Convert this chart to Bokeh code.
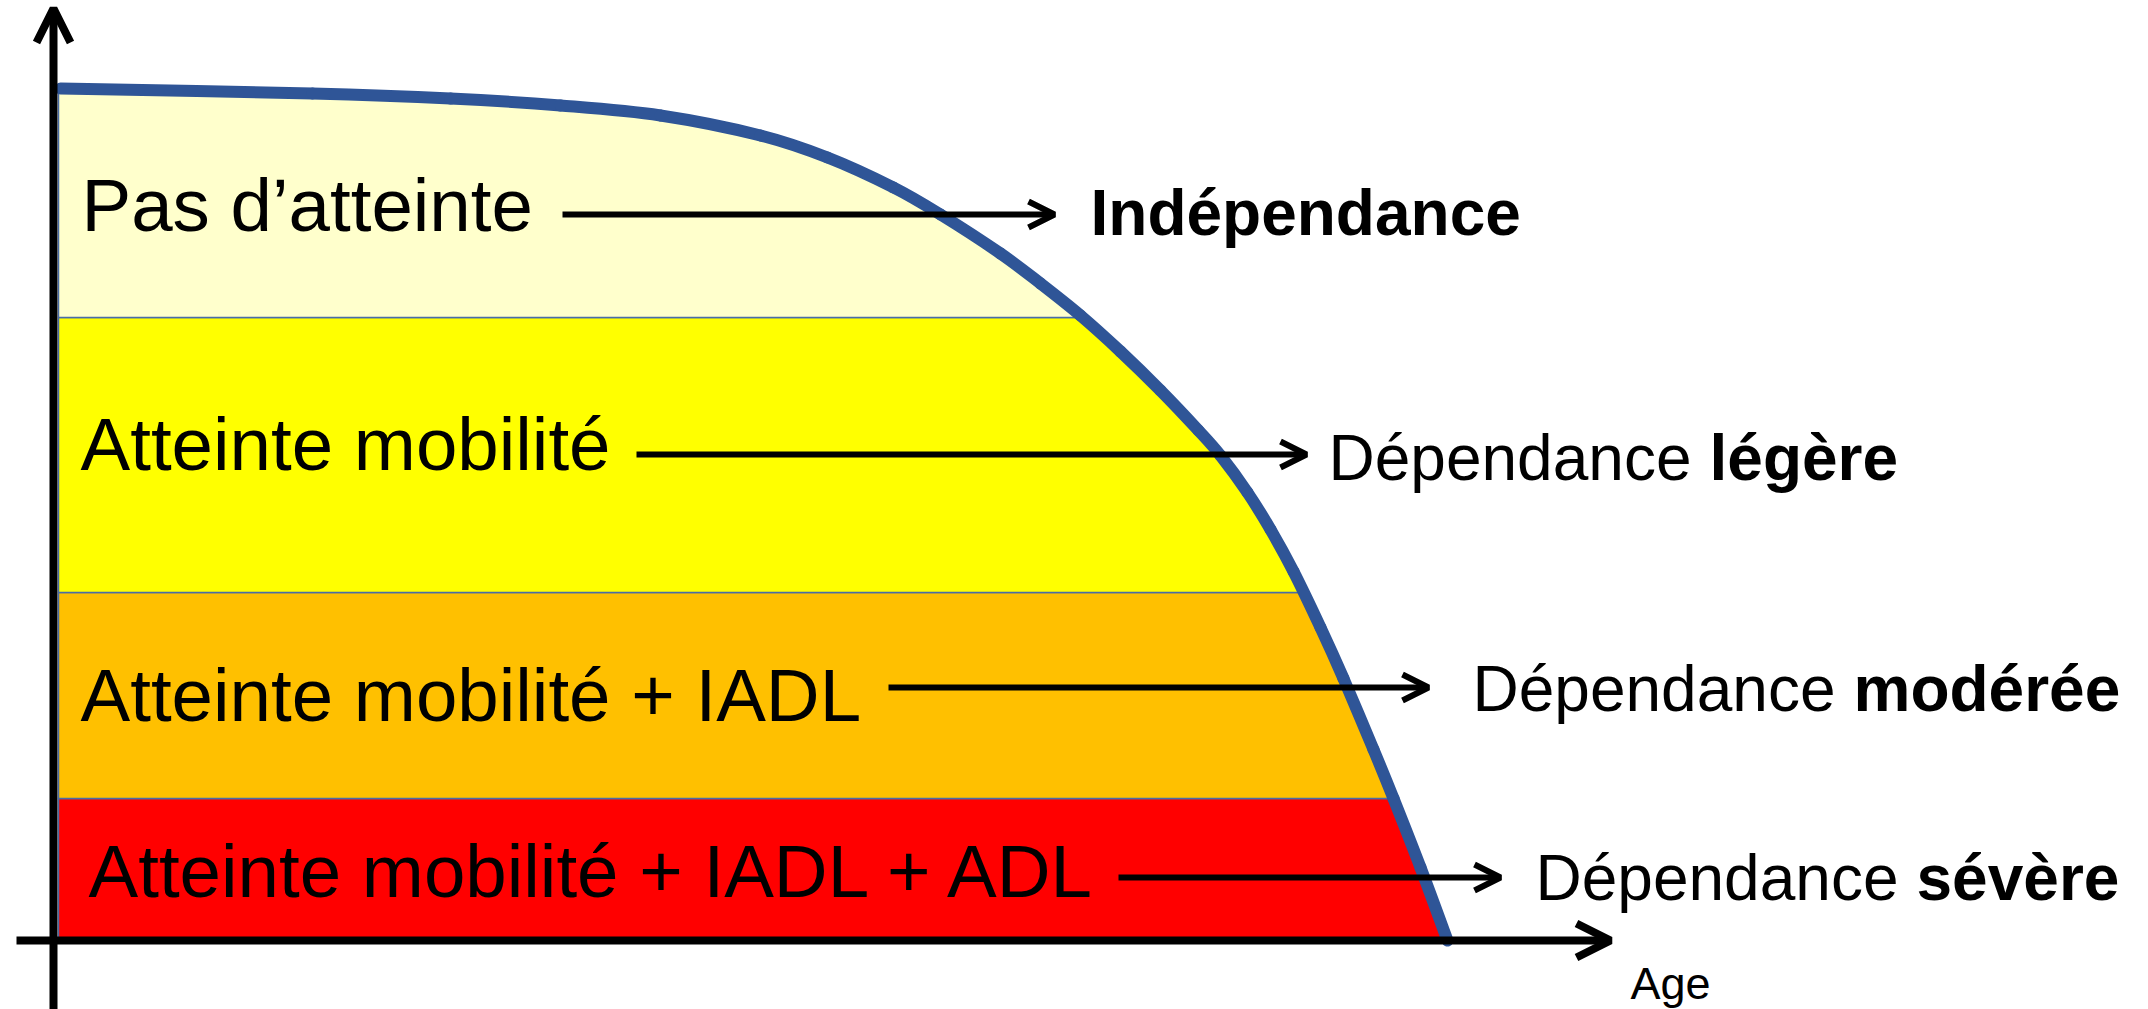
import numpy as np
from bokeh.plotting import figure
from bokeh.models import Range1d, Arrow, OpenHead
from bokeh.core.properties import value
from bokeh.embed import file_html
from bokeh.resources import INLINE

# ---- data (diagram units: age axis to the right, population share upward) ----
ages = np.array([7, 259, 397, 507, 607, 707, 774, 840, 887, 947, 987, 1027, 1067,
                 1107, 1145, 1167, 1194, 1217, 1240, 1267, 1290, 1320, 1340, 1367, 1394],
                dtype=float)
survival = np.array([852, 847, 842, 835, 825, 805, 783, 753, 726, 687, 657, 625, 589,
                     550, 510, 485, 448, 411, 369, 313, 262, 191, 142, 73, 0], dtype=float)

band_bottoms = [0, 142, 348, 623]          # severe, moderate, light, none
band_colors = ["#FF0000", "#FFC000", "#FFFF00", "#FFFFCC"]

left_labels = ["Pas d\u2019atteinte", "Atteinte mobilit\u00e9",
               "Atteinte mobilit\u00e9 + IADL", "Atteinte mobilit\u00e9 + IADL + ADL"]
right_regular = ["", "D\u00e9pendance ", "D\u00e9pendance ", "D\u00e9pendance "]
right_bold = ["Ind\u00e9pendance", "l\u00e9g\u00e8re", "mod\u00e9r\u00e9e", "s\u00e9v\u00e8re"]
axis_label = "Age"

# ---- layout (positions, sizes) ----
LEFT_SIZE, RIGHT_SIZE, AGE_SIZE = 74.5, 64, 45
SHIFT = 0.358   # renderer places the alphabetic baseline about half a cap height low
left_x = [28, 27, 27, 35]
left_y = [708, 469, 218, 42]
arrow_x0 = [509, 583, 835, 1065]
arrow_x1 = [1001, 1253, 1375, 1447]
arrow_y = [726, 486, 253, 63]
right_x = [1037, 1275, 1419, 1482]
right_y = [705, 460, 229, 40]
bold_offset = [0, 381, 381, 381]
age_x, age_y = 1577, -59

p = figure(width=2148, height=1009, x_range=Range1d(-53, 2095), y_range=Range1d(-69, 940),
           output_backend="svg", toolbar_location=None, min_border=0,
           x_axis_location=None, y_axis_location=None)
p.grid.visible = False
p.outline_line_color = None
p.background_fill_color = "white"
p.border_fill_color = "white"

# ---- bands clipped by the survival curve ----
ys_up = survival[::-1]
xs_up = ages[::-1]
def x_at(yv):
    return float(np.interp(yv, ys_up, xs_up))

tops = band_bottoms[1:] + [survival[0]]
x0 = 5
pxs, pys = [], []
for lo, hi in zip(band_bottoms, tops):
    m = (ys_up > lo) & (ys_up < hi)
    xs = [x0, x_at(lo)] + list(xs_up[m]) + [x_at(hi), x0]
    ys = [lo, lo] + list(ys_up[m]) + [hi, hi]
    pxs.append(xs)
    pys.append(ys)
p.patches(pxs, pys, fill_color=band_colors, line_color="#4A6DA7", line_width=1.5)

# ---- survival curve drawn as smooth Bezier segments through the data points ----
n = len(ages)
bx0, by0, bx1, by1, cx0, cy0, cx1, cy1 = [], [], [], [], [], [], [], []
for i in range(n - 1):
    im = max(i - 1, 0)
    ip = min(i + 2, n - 1)
    bx0.append(ages[i]); by0.append(survival[i])
    bx1.append(ages[i + 1]); by1.append(survival[i + 1])
    cx0.append(ages[i] + (ages[i + 1] - ages[im]) / 6.0)
    cy0.append(survival[i] + (survival[i + 1] - survival[im]) / 6.0)
    cx1.append(ages[i + 1] - (ages[ip] - ages[i]) / 6.0)
    cy1.append(survival[i + 1] - (survival[ip] - survival[i]) / 6.0)
p.bezier(x0=bx0, y0=by0, x1=bx1, y1=by1, cx0=cx0, cy0=cy0, cx1=cx1, cy1=cy1,
         line_color="#2F5597", line_width=12, line_cap="round")

# ---- axes ----
p.add_layout(Arrow(x_start=0, y_start=-69, x_end=0, y_end=932, line_width=8, line_color="black",
                   end=OpenHead(size=34, line_width=8, line_color="black")))
p.add_layout(Arrow(x_start=-37, y_start=0, x_end=1557, y_end=0, line_width=8, line_color="black",
                   end=OpenHead(size=34, line_width=8, line_color="black")))

# ---- row arrows ----
for xa, xb, ya in zip(arrow_x0, arrow_x1, arrow_y):
    p.add_layout(Arrow(x_start=xa, y_start=ya, x_end=xb, y_end=ya, line_width=6, line_color="black",
                       end=OpenHead(size=26, line_width=6, line_color="black")))

font = value("Liberation Sans")
p.text(x=left_x, y=[v + SHIFT * LEFT_SIZE for v in left_y], text=left_labels, text_font=font,
       text_font_size=f"{LEFT_SIZE}px", text_baseline="alphabetic", text_align="left",
       text_color="black")
p.text(x=right_x, y=[v + SHIFT * RIGHT_SIZE for v in right_y], text=right_regular, text_font=font,
       text_font_size=f"{RIGHT_SIZE}px", text_baseline="alphabetic", text_align="left",
       text_color="black")
p.text(x=[a + b for a, b in zip(right_x, bold_offset)], y=[v + SHIFT * RIGHT_SIZE for v in right_y],
       text=right_bold, text_font=font, text_font_size=f"{RIGHT_SIZE}px", text_font_style="bold",
       text_baseline="alphabetic", text_align="left", text_color="black")
p.text(x=[age_x], y=[age_y + SHIFT * AGE_SIZE], text=[axis_label], text_font=font,
       text_font_size=f"{AGE_SIZE}px", text_baseline="alphabetic", text_align="left",
       text_color="black")

open("out.html", "w").write(file_html(p, INLINE))
